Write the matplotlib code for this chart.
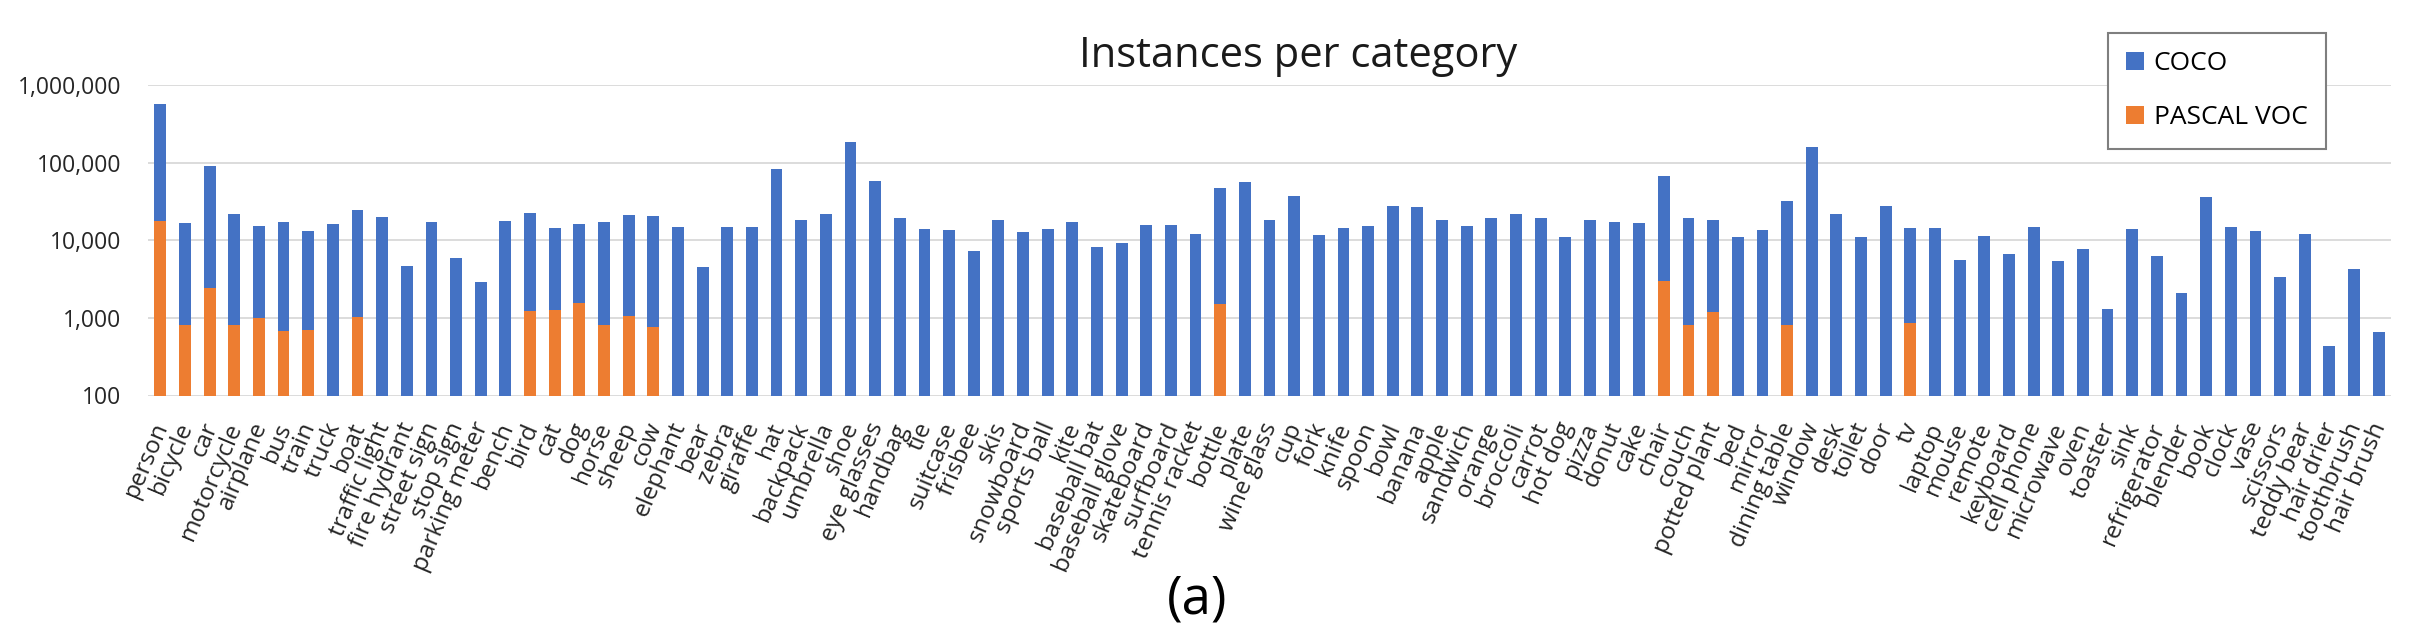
import matplotlib
matplotlib.use("Agg")
import matplotlib.pyplot as plt
import matplotlib.transforms as mtransforms
import numpy as np
from matplotlib.ticker import FixedLocator, FuncFormatter

plt.rcParams['font.family'] = ['Open Sans', 'DejaVu Sans']

categories = [
    "person", "bicycle", "car", "motorcycle", "airplane", "bus", "train", "truck", "boat",
    "traffic light", "fire hydrant", "street sign", "stop sign", "parking meter", "bench",
    "bird", "cat", "dog", "horse", "sheep", "cow", "elephant", "bear", "zebra", "giraffe",
    "hat", "backpack", "umbrella", "shoe", "eye glasses", "handbag", "tie", "suitcase",
    "frisbee", "skis", "snowboard", "sports ball", "kite", "baseball bat", "baseball glove",
    "skateboard", "surfboard", "tennis racket", "bottle", "plate", "wine glass", "cup",
    "fork", "knife", "spoon", "bowl", "banana", "apple", "sandwich", "orange", "broccoli",
    "carrot", "hot dog", "pizza", "donut", "cake", "chair", "couch", "potted plant", "bed",
    "mirror", "dining table", "window", "desk", "toilet", "door", "tv", "laptop", "mouse",
    "remote", "keyboard", "cell phone", "microwave", "oven", "toaster", "sink",
    "refrigerator", "blender", "book", "clock", "vase", "scissors", "teddy bear",
    "hair drier", "toothbrush", "hair brush",
]

# COCO segment (stacked on top of PASCAL VOC)
coco = [
    556000, 16000, 88550, 21300, 14100, 16700, 12400, 16000, 23200,
    20100, 4640, 17400, 5880, 2890, 17800,
    20900, 13300, 14800, 16600, 20400, 19500, 14600, 4480, 14600, 14600,
    82800, 18100, 21500, 184900, 58100, 19600, 13800, 13400,
    7180, 18500, 12700, 13800, 17400, 8090, 9310,
    15500, 15850, 12200, 46000, 56700, 18500, 37500,
    11800, 14300, 15100, 27900, 27000, 18100, 15100, 19100, 22100,
    19100, 11100, 18100, 17400, 16800, 64700, 18300, 16900, 11100,
    13400, 31400, 158500, 21500, 11100, 27300, 13700, 14300, 5540,
    11500, 6620, 14600, 5350, 7620, 1297, 13800,
    6240, 2080, 36200, 14600, 13100, 3340, 12200,
    438, 4230, 662,
]

pascal_voc = [
    17600, 818, 2450, 800, 988, 677, 694, 0, 1036,
    0, 0, 0, 0, 0, 0,
    1237, 1281, 1566, 800, 1061, 753, 0, 0, 0, 0,
    0, 0, 0, 0, 0, 0, 0, 0,
    0, 0, 0, 0, 0, 0, 0,
    0, 0, 0, 1512, 0, 0, 0,
    0, 0, 0, 0, 0, 0, 0, 0, 0,
    0, 0, 0, 0, 0, 3000, 818, 1194, 0,
    0, 800, 0, 0, 0, 0, 867, 0, 0,
    0, 0, 0, 0, 0, 0, 0,
    0, 0, 0, 0, 0, 0, 0,
    0, 0, 0,
]

y_ticks = [100, 1000, 10000, 100000, 1000000]

BLUE = "#4472C4"
ORANGE = "#ED7D31"
GRID = "#D9D9D9"

fig = plt.figure(figsize=(24.12, 6.24), dpi=100)
ax = fig.add_axes([148 / 2412, 1 - 395.5 / 624, (2391 - 148) / 2412, (395.5 - 85) / 624])

x = np.arange(len(categories))
voc = np.array(pascal_voc, dtype=float)
cc = np.array(coco, dtype=float)

b_voc = ax.bar(x, voc, width=0.48, color=ORANGE, zorder=3)
b_coco = ax.bar(x, cc, width=0.48, bottom=voc, color=BLUE, zorder=3)

ax.set_yscale("log")
ax.set_ylim(100, 1000000)
ax.set_xlim(-0.5, len(categories) - 0.5)

ax.yaxis.set_major_locator(FixedLocator(y_ticks))
ax.yaxis.set_minor_locator(FixedLocator([]))
ax.yaxis.set_major_formatter(FuncFormatter(lambda v, p: f"{int(round(v)):,}"))
ax.grid(axis="y", color=GRID, linewidth=1.3, zorder=0)
ax.set_axisbelow(True)
for s in ax.spines.values():
    s.set_visible(False)

ax.tick_params(axis="y", length=0, pad=19, labelsize=16.5, labelcolor="#262626")
ax.tick_params(axis="x", length=0, pad=20, labelsize=17.5, labelcolor="#262626")
ax.set_xticks(x)
ax.set_xticklabels(categories, rotation=67, ha="right", va="center", rotation_mode="anchor")
offset = mtransforms.ScaledTranslation(2 / 100, 0, fig.dpi_scale_trans)
for lbl in ax.get_xticklabels():
    lbl.set_transform(lbl.get_transform() + offset)

fig.text(1298 / 2412, 1 - 66.7 / 624, "Instances per category", fontsize=30,
         ha="center", va="baseline", color="#1a1a1a")
fig.text(1197 / 2412, 1 - 614 / 624, "(a)", fontsize=38, ha="center", va="baseline",
         color="black")

leg = ax.legend([b_coco, b_voc], ["COCO", "PASCAL VOC"], loc="upper left",
                bbox_to_anchor=(2108 / 2412, 1 - 32.7 / 624), bbox_transform=fig.transFigure,
                borderaxespad=0, fontsize=19, frameon=True, fancybox=False,
                edgecolor="#7F7F7F", framealpha=1, handlelength=0.68, handleheight=0.68,
                handletextpad=0.35, labelspacing=1.1, borderpad=0.7)
leg.get_frame().set_linewidth(1.5)

fig.savefig("out.png", dpi=100, facecolor="white")
